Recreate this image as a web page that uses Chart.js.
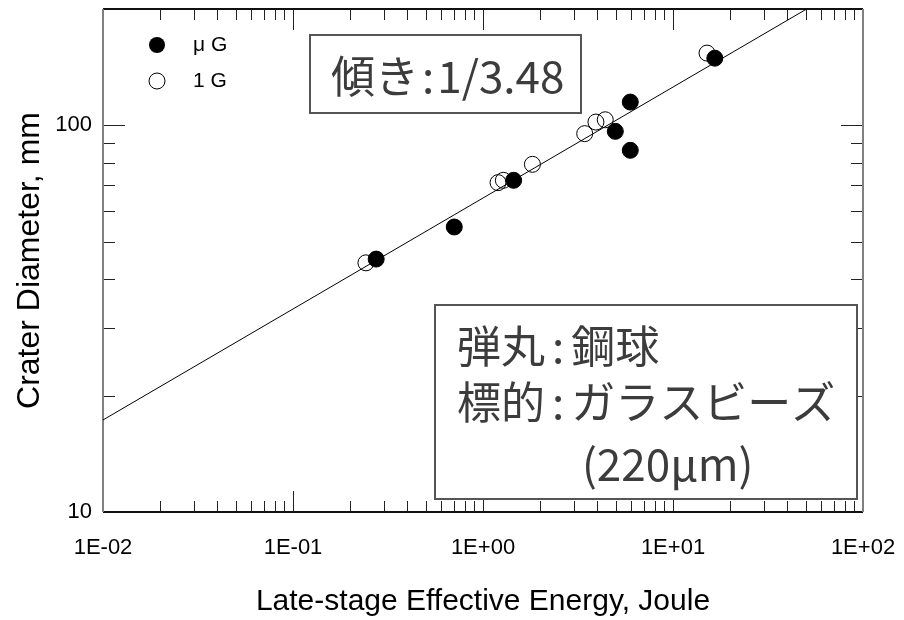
<!doctype html>
<html>
<head>
<meta charset="utf-8">
<title>Crater Diameter vs Late-stage Effective Energy</title>
<script src="https://cdn.jsdelivr.net/npm/chart.js@4"></script>
<style>
	body { margin: 0; background: #fff; }
</style>
</head>
<body>
<canvas id="chart-area" width="904" height="620"></canvas>
<script>
	// data (log-log)
	var ugEnergy   = [0.274, 0.706, 1.45, 4.97, 5.96, 5.96, 16.6];
	var ugDiameter = [45.1, 54.6, 72.1, 96.5, 114.9, 86.2, 149.2];
	var g1Energy   = [0.242, 1.20, 1.28, 1.82, 3.43, 3.93, 4.40, 15.1];
	var g1Diameter = [44.1, 71.1, 72.1, 79.3, 95.2, 102.0, 103.4, 153.8];
	var fitEnergy   = [0.01, 50.5];
	var fitDiameter = [17.3, 200];

	var xTickValues = [0.01, 0.1, 1, 10, 100];
	var xTickLabels = ['1E-02', '1E-01', '1E+00', '1E+01', '1E+02'];
	var yTickValues = [10, 100];
	var yTickLabels = ['10', '100'];

	var slopeText = '傾き:1/3.48';
	var noteLines = ['弾丸:鋼球', '標的:ガラスビーズ', '(220μm)'];

	var sans = "'Liberation Sans', Arial, sans-serif";
	var jp = "'Noto Sans CJK JP', sans-serif";

	function toPoints(xs, ys) {
		return xs.map(function(x, i) { return {x: x, y: ys[i]}; });
	}

	function minorTicks(values) {
		var out = [];
		for (var i = 0; i < values.length - 1; i++) {
			for (var k = 2; k <= 9; k++) out.push(values[i] * k);
		}
		return out;
	}

	// draws text with a little air around the colon, like the original
	function drawSpaced(ctx, text, x, y, gap) {
		var parts = text.split(':');
		if (parts.length < 2) { ctx.fillText(text, x, y); return; }
		ctx.fillText(parts[0], x, y);
		x += ctx.measureText(parts[0]).width + gap;
		ctx.fillText(':', x, y);
		x += ctx.measureText(':').width + gap;
		ctx.fillText(parts.slice(1).join(':'), x, y);
	}

	var framePlugin = {
		id: 'frame',
		beforeDatasetsDraw: function(chart) {
			var ctx = chart.ctx, a = chart.chartArea;
			var xs = chart.scales.x, ys = chart.scales.y;
			ctx.save();
			// ticks pointing inward on all four sides
			ctx.strokeStyle = '#222';
			ctx.lineWidth = 1;
			function xTick(v, len) {
				var p = Math.round(xs.getPixelForValue(v)) + 0.5;
				ctx.beginPath();
				ctx.moveTo(p, a.bottom); ctx.lineTo(p, a.bottom - len);
				ctx.moveTo(p, a.top); ctx.lineTo(p, a.top + len);
				ctx.stroke();
			}
			function yTick(v, len) {
				var p = Math.round(ys.getPixelForValue(v)) + 0.5;
				if (p < a.top + 2) return;
				ctx.beginPath();
				ctx.moveTo(a.left, p); ctx.lineTo(a.left + len, p);
				ctx.moveTo(a.right, p); ctx.lineTo(a.right - len, p);
				ctx.stroke();
			}
			xTickValues.forEach(function(v) { xTick(v, 21); });
			minorTicks(xTickValues).forEach(function(v) { xTick(v, 11); });
			yTickValues.forEach(function(v) { yTick(v, 22); });
			minorTicks([10, 100, 1000]).forEach(function(v) { yTick(v, 12); });

			// frame
			ctx.lineWidth = 2;
			ctx.strokeStyle = '#111';
			ctx.beginPath();
			ctx.moveTo(a.left, a.top); ctx.lineTo(a.right, a.top);
			ctx.moveTo(a.left, a.bottom); ctx.lineTo(a.right, a.bottom);
			ctx.stroke();
			ctx.strokeStyle = '#808080';
			ctx.beginPath();
			ctx.moveTo(a.left, a.top); ctx.lineTo(a.left, a.bottom);
			ctx.moveTo(a.right, a.top); ctx.lineTo(a.right, a.bottom);
			ctx.stroke();
			ctx.restore();
		},
		afterDatasetsDraw: function(chart) {
			var ctx = chart.ctx;
			ctx.save();
			// legend inside the plot
			var sets = chart.data.datasets;
			ctx.font = '21px ' + sans;
			ctx.textBaseline = 'middle';
			ctx.textAlign = 'left';
			ctx.fillStyle = '#000';
			ctx.beginPath(); ctx.arc(157, 45, 8, 0, Math.PI * 2); ctx.fill();
			ctx.fillText(sets[0].label, 193, 45);
			ctx.lineWidth = 1;
			ctx.strokeStyle = '#000';
			ctx.beginPath(); ctx.arc(157, 81, 8, 0, Math.PI * 2); ctx.stroke();
			ctx.fillText(sets[1].label, 193, 81);

			// annotation boxes
			ctx.lineWidth = 2;
			ctx.strokeStyle = '#555';
			ctx.fillStyle = '#fff';
			ctx.fillRect(310, 35, 271, 78);
			ctx.strokeRect(310, 35, 271, 78);
			ctx.fillRect(435, 305, 422, 194);
			ctx.strokeRect(435, 305, 422, 194);

			ctx.fillStyle = '#3c3c3c';
			ctx.font = '44px ' + jp;
			drawSpaced(ctx, slopeText, 331, 76, 3);
			drawSpaced(ctx, noteLines[0], 457, 346, 7);
			drawSpaced(ctx, noteLines[1], 457, 402, 7);
			ctx.fillText(noteLines[2], 582, 464);
			ctx.restore();
		}
	};

	var config = {
		type: 'scatter',
		data: {
			datasets: [{
				label: 'μ G',
				data: toPoints(ugEnergy, ugDiameter),
				backgroundColor: '#000',
				borderColor: '#000',
				pointRadius: 8,
				pointBorderWidth: 1
			}, {
				label: '1 G',
				data: toPoints(g1Energy, g1Diameter),
				backgroundColor: 'rgba(0,0,0,0)',
				borderColor: '#000',
				pointRadius: 8,
				pointBorderWidth: 1
			}, {
				label: 'fit',
				type: 'line',
				data: toPoints(fitEnergy, fitDiameter),
				borderColor: '#000',
				borderWidth: 1,
				pointRadius: 0,
				fill: false
			}]
		},
		options: {
			responsive: false,
			animation: false,
			layout: { padding: { top: 8, right: 41, left: 0, bottom: 0 } },
			plugins: {
				legend: { display: false },
				tooltip: { enabled: false }
			},
			scales: {
				x: {
					type: 'logarithmic',
					position: 'bottom',
					min: 0.01,
					max: 100,
					grid: { display: false, drawTicks: false },
					border: { display: false },
					afterBuildTicks: function(s) {
						s.ticks = xTickValues.map(function(v) { return {value: v}; });
					},
					afterFit: function(s) {
						s.height = 108;
						s.paddingLeft = 0;
						s.paddingRight = 0;
					},
					ticks: {
						autoSkip: false,
						maxRotation: 0,
						padding: 23,
						color: '#000',
						font: { family: sans, size: 22 },
						callback: function(v) {
							var i = xTickValues.indexOf(v);
							return i < 0 ? '' : xTickLabels[i];
						}
					},
					title: {
						display: true,
						text: 'Late-stage Effective Energy, Joule',
						color: '#000',
						font: { family: sans, size: 30 },
						padding: { top: 0, bottom: 0 }
					}
				},
				y: {
					type: 'logarithmic',
					position: 'left',
					min: 10,
					max: 200,
					grid: { display: false, drawTicks: false },
					border: { display: false },
					afterBuildTicks: function(s) {
						s.ticks = yTickValues.map(function(v) { return {value: v}; });
					},
					afterFit: function(s) {
						s.width = 103;
						s.paddingTop = 0;
						s.paddingBottom = 0;
					},
					ticks: {
						autoSkip: false,
						padding: 11,
						color: '#000',
						font: { family: sans, size: 22 },
						callback: function(v) {
							var i = yTickValues.indexOf(v);
							return i < 0 ? '' : yTickLabels[i];
						}
					},
					title: {
						display: true,
						text: 'Crater Diameter, mm',
						color: '#000',
						font: { family: sans, size: 32 },
						padding: { top: 11, bottom: 0 }
					}
				}
			}
		},
		plugins: [framePlugin]
	};

	window.onload = function() {
		var ctx = document.getElementById('chart-area').getContext('2d');
		window.myChart = new Chart(ctx, config);
	};
</script>
</body>
</html>
